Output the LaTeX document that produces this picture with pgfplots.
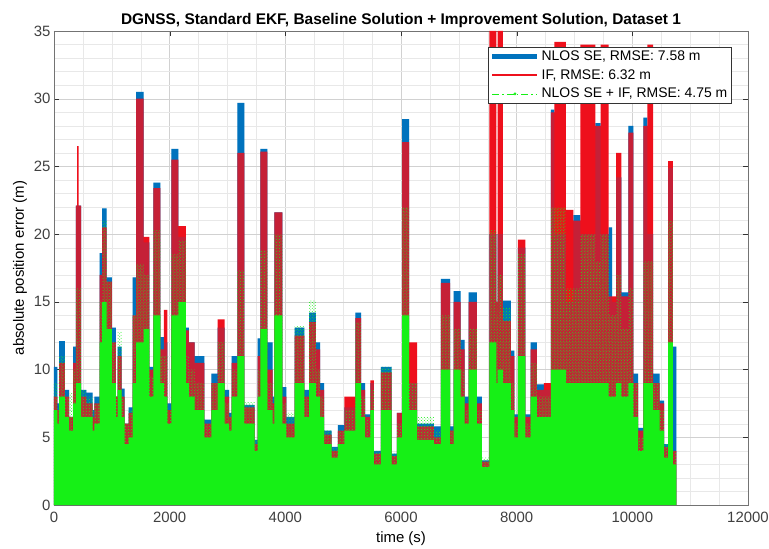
\documentclass[border=0pt]{standalone}
\usepackage{pgfplots}
\pgfplotsset{compat=1.18}
\usepackage{pgfplotstable}
\usepackage{fontspec}
\setmainfont{Liberation Sans}
\usetikzlibrary{patterns}

\definecolor{mblue}{RGB}{0,114,189}
\definecolor{mred}{RGB}{238,16,28}
\definecolor{mgreen}{RGB}{22,240,22}

% envelope of each series (step levels), t in s, errors in m
% b: NLOS SE, r: IF, g: NLOS SE + IF (dense part), gt: NLOS SE + IF (tips)
\pgfplotstableread{
t b r g gt
0 10.2 8.0 7.0 9.0
60 7.5 7.0 6.0 7.0
90 12.1 10.5 8.0 11.0
190 8.5 8.0 6.5 8.0
260 6.5 6.5 5.5 8.3
330 11.7 10.5 7.5 10.0
380 22.1 22.1 9.0 16.0
400 22.1 26.5 9.0 16.0
425 22.1 22.1 9.0 16.0
470 8.5 8.0 6.5 8.5
560 8.3 7.5 6.5 8.0
670 7.0 6.5 5.5 7.0
700 8.0 7.5 6.0 7.5
790 18.6 17.0 12.0 15.0
830 21.9 20.5 15.0 21.0
910 16.8 16.5 13.0 16.5
1000 13.1 12.0 9.0 12.0
1070 8.0 8.0 6.5 8.0
1100 11.7 11.0 8.5 12.8
1170 8.6 8.0 6.5 8.0
1220 6.0 6.0 4.5 6.0
1290 7.2 6.8 5.0 7.0
1360 16.8 14.0 9.0 14.0
1420 30.5 30.0 12.0 17.8
1550 19.4 19.8 13.0 17.0
1650 10.2 10.0 8.0 9.5
1720 23.8 23.4 14.0 20.3
1840 12.4 11.5 9.0 11.0
1900 12.0 14.4 8.0 11.0
1960 7.5 7.0 6.0 7.0
2030 26.3 25.5 14.0 18.5
2150 19.8 20.6 15.0 19.5
2280 13.1 12.9 9.0 11.0
2330 12.0 12.0 8.0 10.0
2430 11.0 10.5 7.0 9.0
2600 6.3 6.0 5.0 6.0
2720 9.7 9.0 7.0 9.0
2830 13.1 13.7 9.0 12.0
2950 8.5 8.0 6.0 7.5
3030 6.8 6.5 5.5 6.5
3070 11.0 10.5 8.0 10.0
3170 29.7 26.0 11.0 17.3
3290 7.4 7.2 6.0 7.6
3470 4.8 4.5 4.0 4.8
3520 12.3 11.0 8.0 10.0
3570 26.3 26.1 13.0 18.8
3690 12.0 10.0 7.0 9.0
3780 8.0 7.5 6.0 7.0
3810 21.6 21.6 14.0 20.0
3950 8.7 8.0 6.0 7.5
4020 6.5 6.0 5.0 6.8
4160 13.1 12.5 9.0 13.2
4330 8.5 8.0 6.5 8.0
4410 14.2 13.5 9.0 15.1
4530 12.0 11.5 8.0 10.0
4600 9.0 8.5 6.5 8.0
4670 5.5 5.2 4.5 5.5
4800 4.3 4.0 3.5 4.2
4910 5.9 5.5 4.5 5.5
5020 7.2 8.0 5.5 7.0
5210 14.2 13.8 9.0 13.5
5310 9.0 8.5 6.5 8.0
5380 6.7 6.5 5.0 6.3
5470 9.0 9.2 7.0 8.5
5530 4.0 3.8 3.0 4.0
5650 10.2 9.8 7.0 10.2
5840 3.8 3.6 3.0 3.8
5930 6.8 6.8 5.0 6.0
6020 28.5 26.8 14.0 22.0
6140 9.0 12.0 7.0 9.0
6280 6.0 5.8 4.8 6.5
6570 5.8 5.0 4.5 5.5
6690 16.7 16.4 10.0 14.0
6850 5.8 5.5 4.5 5.5
6910 15.8 15.0 10.0 13.0
7030 12.2 11.5 8.0 10.0
7100 8.0 7.5 6.0 7.0
7170 15.7 15.0 10.0 13.0
7310 8.0 7.5 6.0 7.0
7400 3.3 3.2 2.8 3.5
7530 20.0 35.0 12.0 20.3
7650 15.0 15.0 9.0 14.0
7670 20.0 35.0 10.0 17.0
7760 15.1 13.6 9.0 14.6
7900 11.4 11.0 7.0 9.0
7960 6.7 6.5 5.0 6.0
8020 19.0 19.6 11.0 18.5
8150 6.7 6.5 5.0 6.0
8240 12.0 11.5 8.0 10.5
8350 8.9 8.5 6.5 8.0
8470 8.5 9.0 6.5 8.0
8590 29.2 29.0 10.0 22.0
8650 20.0 34.2 10.0 22.0
8850 15.0 21.8 9.0 16.0
8980 21.4 21.0 9.0 16.0
9100 20.0 34.0 9.0 20.0
9360 28.2 28.0 9.0 18.0
9450 20.0 34.0 9.0 20.0
9590 20.5 15.4 8.0 14.0
9650 15.0 15.4 8.0 14.0
9720 24.2 26.0 9.0 17.0
9810 15.7 15.4 8.0 13.0
9930 28.0 27.5 9.0 16.0
10020 9.7 9.0 6.5 9.0
10100 5.7 5.5 4.0 5.0
10190 28.6 28.0 9.0 18.0
10260 20.0 34.0 9.0 18.0
10360 9.7 9.0 7.0 9.0
10470 7.7 7.5 5.5 7.0
10550 4.5 4.3 3.5 4.5
10620 24.9 25.4 12.0 21.0
10700 11.7 4.0 3.0 4.0
10760 11.7 4.0 3.0 4.0
}\errdata

\begin{document}
\begin{tikzpicture}
\begin{axis}[
  scale only axis,
  width=694bp, height=474bp,
  xmin=0, xmax=12000, ymin=0, ymax=35,
  xtick={0,2000,...,12000}, ytick={0,5,...,35},
  scaled x ticks=false,
  minor x tick num=3, minor y tick num=4,
  grid=both,
  major grid style={black!18, line width=0.4bp},
  minor grid style={black!9, line width=0.3bp},
  tick align=inside, major tick length=5bp, minor tick length=0bp,
  axis line style={black!55},
  tick style={black!80},
  ticklabel style={font=\fontsize{15}{18}\selectfont, text=black!75},
  xticklabel style={yshift=-4bp},
  /pgf/number format/1000 sep={},
  /pgf/number format/assume math mode=true,
  title={DGNSS, Standard EKF, Baseline Solution + Improvement Solution, Dataset 1},
  title style={font=\fontsize{15.5}{18}\selectfont\bfseries, yshift=-6bp},
  xlabel={time (s)}, ylabel={absolute position error (m)},
  label style={font=\fontsize{15}{18}\selectfont},
  xlabel style={yshift=-2bp},
  legend style={at={(0.9755,0.966)}, anchor=north east,
    font=\fontsize{14}{17}\selectfont, draw=black!80,
    inner sep=1.5bp, row sep=3.5bp},
  legend cell align=left,
  legend image code/.code={\draw[#1] (0bp,0bp) -- (45bp,0bp);},
]
\addplot[const plot mark left, fill=mblue, draw=none, forget plot] table[x=t, y=b] {\errdata} \closedcycle;
\addplot[const plot mark left, fill=mred, draw=none, forget plot] table[x=t, y=r] {\errdata} \closedcycle;
\addplot[const plot mark left, fill=mblue, fill opacity=0.17, draw=none, forget plot] table[x=t, y=b] {\errdata} \closedcycle;
\addplot[const plot mark left, pattern=crosshatch dots, pattern color=mgreen, draw=none, forget plot] table[x=t, y=gt] {\errdata} \closedcycle;
\addplot[const plot mark left, fill=mgreen, draw=none, forget plot] table[x=t, y=g] {\errdata} \closedcycle;

\addlegendimage{mblue, line width=4.5bp}
\addlegendentry{NLOS SE, RMSE: 7.58 m}
\addlegendimage{mred, line width=2bp}
\addlegendentry{IF, RMSE: 6.32 m}
\addlegendimage{legend image code/.code={
  \draw[mgreen, line width=0.7bp, dash pattern=on 7bp off 3bp on 1.5bp off 3bp] (0bp,0bp) -- (45bp,0bp);
  \fill[mgreen] (22.5bp,0bp) circle (1.2bp);}}
\addlegendentry{NLOS SE + IF, RMSE: 4.75 m}
\end{axis}
\pgfresetboundingbox
\path[use as bounding box] (current axis.south west) ++(-54bp,-44bp)
  rectangle ([shift={(21bp,31bp)}]current axis.north east);
\end{tikzpicture}
\end{document}
